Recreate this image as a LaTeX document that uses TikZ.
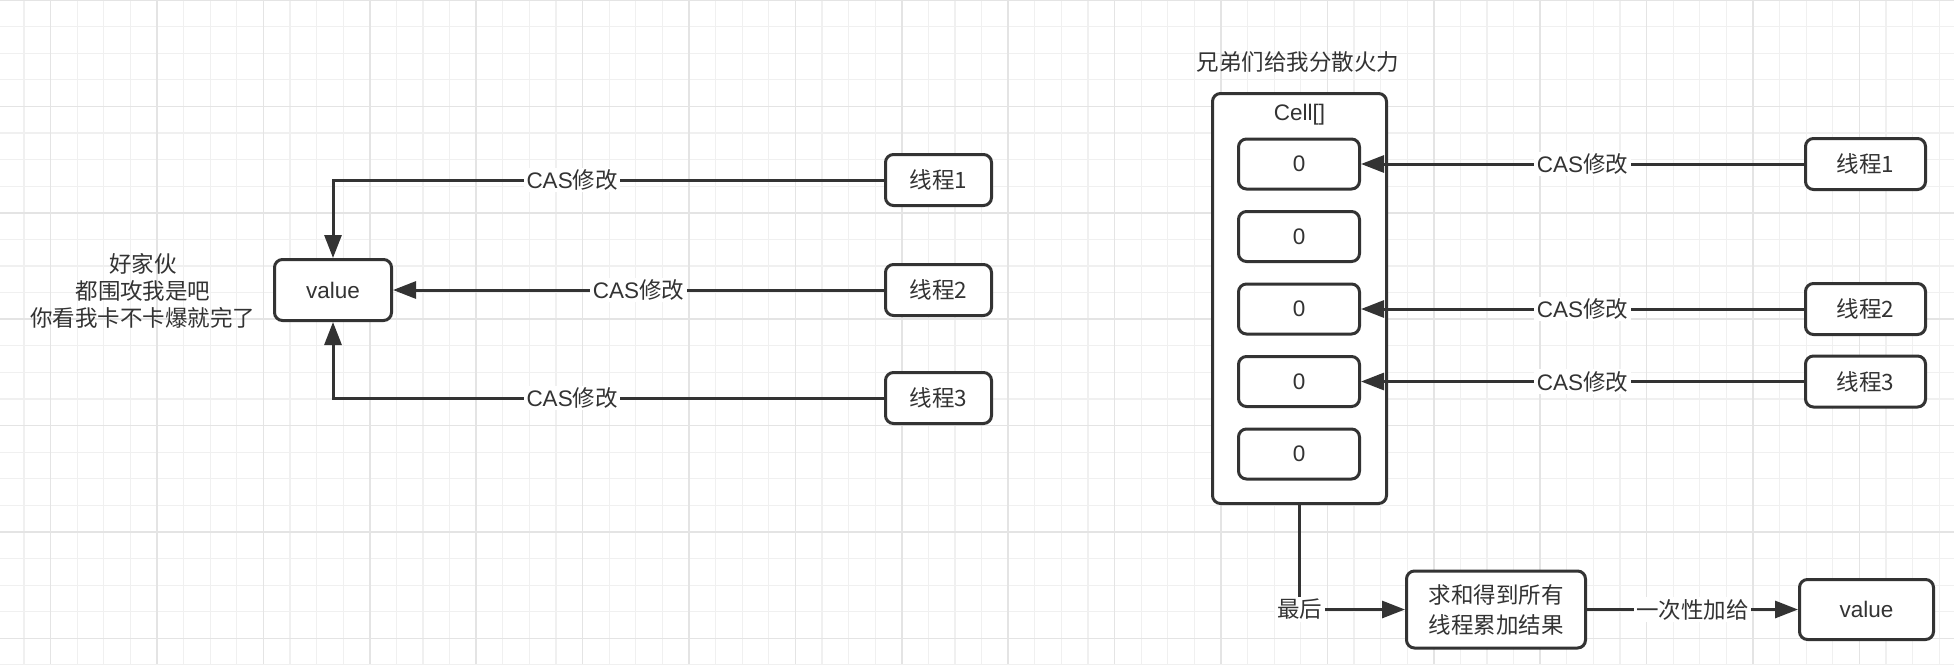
\documentclass[tikz,border=0pt]{standalone}
\usepackage{fontspec}
\setmainfont{Liberation Sans}
\newfontfamily\cjk{Noto Sans CJK SC}
\usetikzlibrary{arrows.meta}
\definecolor{ink}{HTML}{333333}
\definecolor{gmin}{HTML}{F0F0F0}
\definecolor{gmaj}{HTML}{E4E4E4}
\begin{document}
\begin{tikzpicture}[x=1pt,y=-1pt,
  every node/.style={font=\fontsize{22.5}{27}\selectfont, text=ink},
  cjktext/.style={font=\fontsize{22.5}{27}\selectfont\cjk},
  box/.style={draw=ink, line width=3pt, rounded corners=8pt, fill=white, inner sep=0pt, align=center},
  conn/.style={draw=ink, line width=3pt, -{Triangle[length=23pt,width=17pt]}},
  lbl/.style={fill=white, inner xsep=2.5pt, inner ysep=2pt},
  gridminor/.style={gmin, line width=1.3pt},
  gridmajor/.style={gmaj, line width=1.6pt}]
\useasboundingbox (0,0) rectangle (1954,664);
\fill[white] (0,0) rectangle (1954,664);
\begin{scope}
\clip (0,0) rectangle (1954,664);
\foreach \i in {0,...,73} \draw[gridminor] ({24+26.6*\i},0) -- ({24+26.6*\i},664);
\foreach \i in {0,...,25} \draw[gridminor] (0,{26.6*\i}) -- (1954,{26.6*\i});
\foreach \i in {0,...,18} \draw[gridmajor] ({50.6+106.4*\i},0) -- ({50.6+106.4*\i},664);
\foreach \i in {0,...,6} \draw[gridmajor] (0,{106.4*\i}) -- (1954,{106.4*\i});
\end{scope}

% left part
\node[box, minimum width=117pt, minimum height=61pt] (value) at (333,290) {value};
\node[box, cjktext, minimum width=106pt, minimum height=51pt] (t1) at (938.5,180) {线程1};
\node[box, cjktext, minimum width=106pt, minimum height=51pt] (t2) at (938.5,290) {线程2};
\node[box, cjktext, minimum width=106pt, minimum height=51pt] (t3) at (938.5,398) {线程3};
\node[cjktext, align=center] (note) at (143,291) {好家伙\\都围攻我是吧\\你看我卡不卡爆就完了};

\draw[conn] (t1.west) -| node[lbl, pos=0.283] {CAS{\cjk 修改}} (value.north);
\draw[conn] (t2.west) -- node[lbl] {CAS{\cjk 修改}} (value.east);
\draw[conn] (t3.west) -| node[lbl, pos=0.283] {CAS{\cjk 修改}} (value.south);

% right part
\node[cjktext] (title) at (1298,62) {兄弟们给我分散火力};
\node[box, minimum width=174pt, minimum height=410pt] (cell) at (1299.5,298.5) {};
\node (celllbl) at (1299.5,115) {Cell[]};
\node[box, minimum width=121pt, minimum height=50pt] (c1) at (1299,164) {0};
\node[box, minimum width=121pt, minimum height=50pt] (c2) at (1299,236.5) {0};
\node[box, minimum width=121pt, minimum height=50pt] (c3) at (1299,309) {0};
\node[box, minimum width=121pt, minimum height=50pt] (c4) at (1299,381.5) {0};
\node[box, minimum width=121pt, minimum height=50pt] (c5) at (1299,454) {0};

\node[box, cjktext, minimum width=120pt, minimum height=51pt] (r1) at (1865.5,164) {线程1};
\node[box, cjktext, minimum width=120pt, minimum height=51pt] (r2) at (1865.5,309) {线程2};
\node[box, cjktext, minimum width=120pt, minimum height=51pt] (r3) at (1865.5,381.5) {线程3};

\draw[conn] (r1.west) -- node[lbl] {CAS{\cjk 修改}} (c1.east);
\draw[conn] (r2.west) -- node[lbl] {CAS{\cjk 修改}} (c3.east);
\draw[conn] (r3.west) -- node[lbl] {CAS{\cjk 修改}} (c4.east);

% bottom
\node[box, cjktext, minimum width=179pt, minimum height=77pt] (sum) at (1496,609.5) {求和得到所有\\[3pt]线程累加结果};
\node[box, minimum width=134pt, minimum height=60pt] (val2) at (1866.5,609.5) {value};

\draw[conn] (cell.south) |- node[lbl, cjktext, pos=0.5] {最后} (sum.west);
\draw[conn] (sum.east) -- node[lbl, cjktext] {一次性加给} (val2.west);
\end{tikzpicture}
\end{document}
